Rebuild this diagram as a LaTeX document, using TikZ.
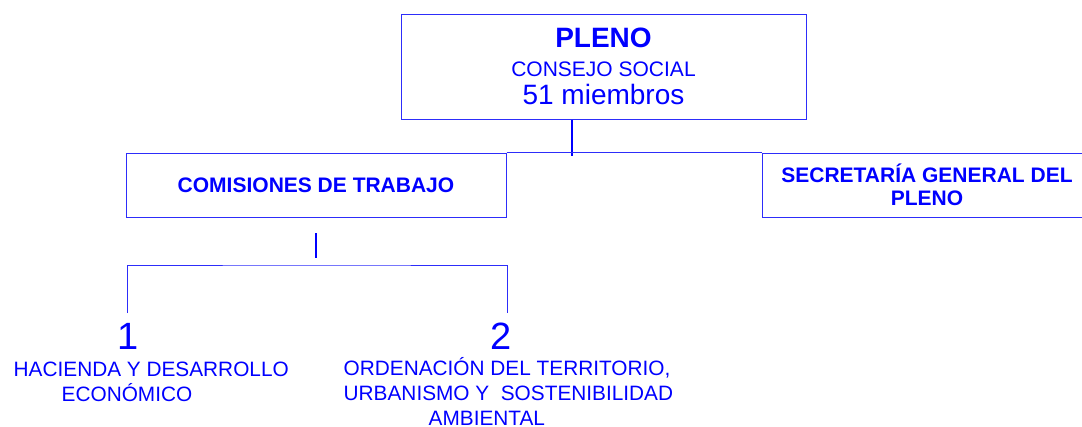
\documentclass[tikz,border=0pt]{standalone}
\usepackage{fontspec}
\setmainfont{Liberation Sans}
\usetikzlibrary{positioning,calc}
\definecolor{orgblue}{RGB}{0,0,255}
\definecolor{lineblue}{RGB}{45,45,250}
\tikzset{font=\fontsize{21}{25}\selectfont}

\begin{document}
\begin{tikzpicture}[x=1pt, y=-1pt]
	\useasboundingbox (0, 0) rectangle (1082, 426);
	\begin{scope}
		\tikzstyle{every node}=[align=center, inner sep=0pt, text=orgblue]
		\tikzstyle{box}=[draw=lineblue, line width=1pt]
		\tikzstyle{line}=[draw=lineblue, line width=1pt]
		\tikzstyle{conn}=[draw=orgblue, line width=2.2pt]
		\tikzstyle{num}=[font=\fontsize{38}{40}\selectfont]
		\tikzstyle{lab}=[align=left, anchor=base west, font=\fontsize{20.8}{25}\selectfont]

		\node[box, minimum width=405pt, minimum height=105pt, font=\fontsize{21}{28.5}\selectfont] (pleno) at (603.5, 66.5)
			{{\fontsize{28}{28}\selectfont\bfseries PLENO}\\ CONSEJO SOCIAL\\ {\fontsize{28}{28}\selectfont 51 miembros}};
		\node[box, minimum width=380pt, minimum height=64pt, font=\fontsize{21}{25}\selectfont\bfseries] (comis) at (316, 185) {COMISIONES DE TRABAJO};
		\node[box, minimum width=330pt, minimum height=64pt, font=\fontsize{21}{23}\selectfont\bfseries] (secr) at (927, 185) {SECRETARÍA GENERAL DEL\\ PLENO};

		\node[num] (n1) at (128, 336.5) {1};
		\node[num] (n2) at (501, 336.5) {2};
		\node[lab] (lab1) at (13.5, 401) {HACIENDA Y DESARROLLO\\ \hspace*{48pt}ECONÓMICO};
		\node[lab] (lab2) at (343.5, 425) {ORDENACIÓN DEL TERRITORIO,\\ URBANISMO Y \ SOSTENIBILIDAD\\ \hspace*{85pt}AMBIENTAL};

		\coordinate (j0) at (572, 156);
		\coordinate (s1) at (316, 233);
		\coordinate (s2) at (316, 258);
		\coordinate (br) at (316, 265);
		\coordinate (b1) at (127, 313);
		\coordinate (b2) at (507, 313);

		\draw[conn                         ](j0 |- pleno.south) -- (j0);
		\draw[line                         ](comis.north east) -- (secr.north west);
		\draw[conn                         ](s1) -- (s2);
		\draw[line                         ](b1) |- (br) -| (b2);
	\end{scope}
\end{tikzpicture}
\end{document}
